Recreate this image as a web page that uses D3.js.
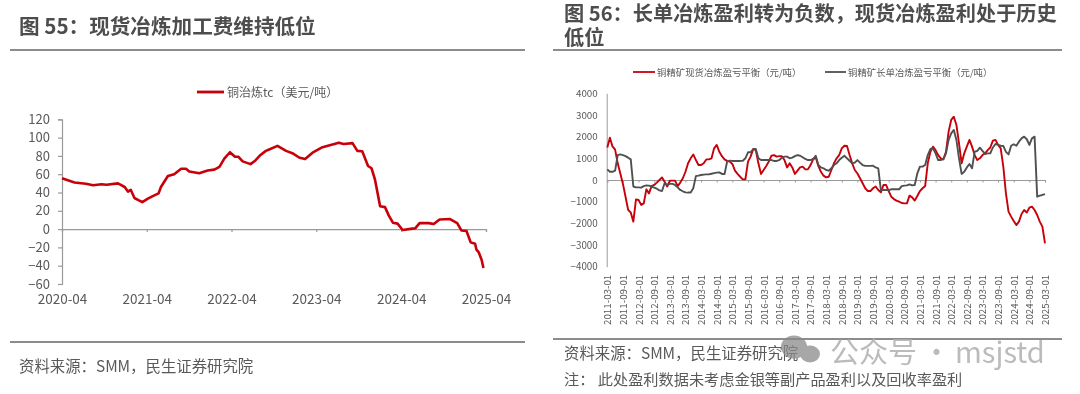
<!DOCTYPE html>
<html><head><meta charset="utf-8">
<script src="https://cdnjs.cloudflare.com/ajax/libs/d3/7.8.5/d3.min.js"></script>
<style>html,body{margin:0;padding:0;background:#fff}svg{display:block;filter:blur(0.4px)}text{font-family:"Noto Sans CJK SC","Open Sans",sans-serif}</style>
</head><body><svg id="c" width="1080" height="394"></svg>
<script>
const tcDates=["2020-04-01","2020-04-26","2020-05-25","2020-07-13","2020-08-13","2020-09-18","2020-10-10","2020-11-28","2020-12-27","2021-01-10","2021-01-22","2021-02-07","2021-02-22","2021-03-13","2021-04-04","2021-04-27","2021-05-22","2021-06-01","2021-07-01","2021-07-28","2021-08-27","2021-09-17","2021-10-01","2021-11-13","2021-12-19","2022-01-17","2022-02-08","2022-03-01","2022-03-25","2022-04-16","2022-05-01","2022-05-19","2022-06-22","2022-07-13","2022-08-04","2022-08-27","2022-09-10","2022-10-16","2022-11-22","2022-12-19","2023-01-19","2023-02-12","2023-03-16","2023-04-28","2023-06-10","2023-07-07","2023-07-28","2023-09-04","2023-09-25","2023-10-16","2023-11-10","2023-11-25","2023-12-10","2024-01-01","2024-01-22","2024-02-07","2024-02-25","2024-03-16","2024-04-07","2024-05-19","2024-06-01","2024-06-19","2024-07-28","2024-08-19","2024-09-13","2024-10-28","2024-11-28","2024-12-16","2025-01-07","2025-01-25","2025-02-13","2025-02-19","2025-03-01","2025-03-13","2025-03-21"];
const tcValues=[55.5,53.5,51,49.5,48,49,48.5,50,46,41,43,34,32,29.5,33,36,39,46,58,60,66,66,63,61,64,65,68,77,84,79,79,74,71,75,81,85.5,87,91,85.5,83,78,76.5,83.5,89.5,92.5,94.5,93,94,85.5,85,69,66.5,54,25,24,15,7,6,-1,0.5,1,6.5,6.5,5.5,10.5,11,6.5,-1.5,-2,-14.5,-16,-22.5,-25.5,-33.5,-42.5];
const tcTicks=["2020-04","2021-04","2022-04","2023-04","2024-04","2025-04"];
const tcYTicks=[120,100,80,60,40,20,0,-20,-40,-60];

const spotValues=[1500,1950,1550,1400,770,300,-180,-770,-1380,-1500,-1920,-900,-920,-1150,-1080,-430,-620,-280,-230,-120,0,120,-80,-300,-30,-30,-30,-280,-120,80,380,770,1000,1180,920,690,690,770,950,950,1000,1460,1620,1300,1100,950,880,850,740,430,280,150,30,30,850,1080,1420,1380,770,280,460,650,850,1120,1150,1080,1100,1100,920,580,770,580,280,430,580,615,490,490,690,950,1050,650,380,200,120,150,460,770,1000,1150,1460,1580,1570,1150,770,460,300,80,-150,-380,-510,-510,-380,-300,-460,-570,-230,-230,-510,-770,-880,-950,-1000,-1060,-1080,-1080,-720,-800,-950,-740,-510,-380,-280,770,1300,1540,1380,1150,1000,950,1300,2230,2770,2920,2540,1690,770,1230,1540,1850,1540,1150,920,1000,1150,1230,1380,1500,1815,1850,1620,1460,615,-615,-1460,-1690,-1890,-2080,-1920,-1570,-1385,-1500,-1280,-1230,-1385,-1615,-1920,-2150,-2920];
const longValues=[490,380,380,430,1150,1180,1150,1100,1030,950,-300,-340,-340,-350,-280,-250,-260,-300,-350,-400,-480,-510,-150,-230,-180,-180,-230,-340,-460,-520,-570,-580,-580,-380,180,200,230,250,260,260,290,320,340,350,280,280,850,890,880,880,880,880,890,1000,1280,1280,1430,1430,1000,920,920,920,920,920,880,880,920,1030,1080,1080,1000,1030,1100,1150,1120,1050,970,920,920,970,1120,690,580,540,460,430,540,690,770,920,1030,1120,1000,890,770,800,920,800,690,650,650,650,660,580,540,-460,-460,-460,-460,-430,-430,-430,-430,-280,-260,-250,-200,-250,-230,310,615,615,690,1150,1430,1460,1230,920,920,970,1230,1850,2150,2310,1850,1000,280,380,580,740,540,1310,1340,1490,1340,1200,1230,1230,1500,1660,1620,1580,1570,1300,1180,1580,1650,1580,1770,1920,2000,1880,1620,1920,2000,-770,-720,-690,-650];
const profitYTicks=[4000,3000,2000,1000,0,-1000,-2000,-3000,-4000];

const titleLeft="图 55：现货冶炼加工费维持低位";
const titleRight=["图 56：长单冶炼盈利转为负数，现货冶炼盈利处于历史","低位"];
const legendLeft="铜治炼tc（美元/吨）";
const legendSpot="铜精矿现货冶炼盈亏平衡（元/吨）";
const legendLong="铜精矿长单冶炼盈亏平衡（元/吨）";
const sourceLeft="资料来源：SMM，民生证券研究院";
const sourceRight="资料来源：SMM，民生证券研究院";
const noteRight="注：  此处盈利数据未考虑金银等副产品盈利以及回收率盈利";
const wmParts=["公众号","·","msjstd"];

const RED="#c8000a",GREY="#505050",TXT="#595959",AX="#9a9a9a";
const svg=d3.select("#c");
const fmtM=d3.timeFormat("%Y-%m"),pM=d3.timeParse("%Y-%m"),pD=d3.timeParse("%Y-%m-%d");

function text(x,y,s,size,fill,opts={}){return svg.append("text").attr("x",x).attr("y",y).attr("font-size",size).attr("fill",fill).attr("font-weight",opts.weight||400).attr("text-anchor",opts.anchor||"start").text(s);}
function rule(x1,x2,y,w,c){svg.append("line").attr("x1",x1).attr("x2",x2).attr("y1",y).attr("y2",y).attr("stroke",c||"#666").attr("stroke-width",w||1.5);}

// headers and rules
text(19,34,titleLeft,20.6,"#4d4d4d",{weight:700});
rule(10,525,50,1.6);
text(564,21,titleRight[0],20.2,"#4d4d4d",{weight:700});
text(564,45,titleRight[1],20.2,"#4d4d4d",{weight:700});
rule(553,1062,50,1.6);
rule(10,525,342,1.6);
rule(553,1062,339,1.6);
text(19,372,sourceLeft,15.4,TXT);
text(564,359,sourceRight,15.4,TXT);
text(564,385,noteRight,15.2,TXT);

// left chart
const lx=d3.scaleTime().domain([pM("2020-04"),pM("2025-04")]).range([62,486]);
const ly=d3.scaleLinear().domain([-60,120]).range([284,119.3]);
const gl=svg.append("g");
const yAxL=gl.append("g").attr("transform","translate(62,0)").call(d3.axisLeft(ly).tickValues(tcYTicks).tickSize(4).tickPadding(8));
const xAxL=gl.append("g").attr("transform",`translate(0,${ly(0)})`).call(d3.axisBottom(lx).tickValues(tcTicks.map(pM)).tickSize(3).tickFormat(""));
const xLabL=gl.append("g").attr("transform",`translate(0,${ly(-60)})`).call(d3.axisBottom(lx).tickValues(tcTicks.map(pM)).tickSize(0).tickPadding(10).tickFormat(fmtM));
xLabL.select(".domain").remove();
[yAxL,xAxL].forEach(a=>{a.selectAll("path,line").attr("stroke",AX).attr("stroke-width",1.2);});
yAxL.selectAll("text").attr("font-size",13);
xLabL.selectAll("text").attr("font-size",13.5);
[yAxL,xLabL].forEach(a=>a.selectAll("text").attr("fill",TXT).attr("font-family","'Open Sans',sans-serif"));
gl.append("path").attr("fill","none").attr("stroke",RED).attr("stroke-width",2.6).attr("stroke-linejoin","round")
  .attr("d",d3.line().x((d,i)=>lx(pD(tcDates[i]))).y(d=>ly(d))(tcValues));
const lineLeg=(x1,x2,y,c,w)=>svg.append("line").attr("x1",x1).attr("x2",x2).attr("y1",y).attr("y2",y).attr("stroke",c).attr("stroke-width",w);
lineLeg(197,224,92,RED,2.8);
text(227,97,legendLeft,12,TXT);

// right chart
const months=d3.timeMonth.range(pM("2011-03"),d3.timeMonth.offset(pM("2025-03"),1)).map(d=>d3.timeFormat("%Y-%m-01")(d));
const rx=d3.scalePoint().domain(months).range([607.3,1045]);
const ry=d3.scaleLinear().domain([-4000,4000]).range([266.7,93.3]);
const rTicks=months.filter((m,i)=>i%6===0);
const gr=svg.append("g");
const yAxR=gr.append("g").attr("transform","translate(606.7,0)").call(d3.axisLeft(ry).tickValues(profitYTicks).tickSize(0).tickPadding(9).tickFormat(d3.format("d")));
const xAxR=gr.append("g").attr("transform",`translate(0,${ry(0)})`).call(d3.axisBottom(rx).tickValues(rTicks).tickSize(2.5).tickFormat(""));
const xLabR=gr.append("g").attr("transform",`translate(0,${ry(-4000)})`).call(d3.axisBottom(rx).tickValues(rTicks).tickSize(0).tickPadding(0));
xLabR.select(".domain").remove();
xLabR.selectAll("text").attr("transform","rotate(-90)").attr("text-anchor","end").attr("x",-8).attr("y",0).attr("dx",0).attr("dy","0.35em").attr("font-size",9.8);
[yAxR,xAxR].forEach(a=>{a.selectAll("path,line").attr("stroke",AX).attr("stroke-width",1);});
yAxR.selectAll("text").attr("font-size",9.8);
[yAxR,xLabR].forEach(a=>a.selectAll("text").attr("fill",TXT).attr("font-family","'Open Sans',sans-serif"));
const lineR=d3.line().x((d,i)=>rx(months[i])).y(d=>ry(d));
gr.append("path").attr("fill","none").attr("stroke",RED).attr("stroke-width",1.9).attr("stroke-linejoin","round").attr("d",lineR(spotValues));
gr.append("path").attr("fill","none").attr("stroke",GREY).attr("stroke-width",1.9).attr("stroke-linejoin","round").attr("d",lineR(longValues));
lineLeg(633,655,72,RED,1.8);
text(657,76,legendSpot,9.4,TXT);
lineLeg(825,846,72,GREY,1.8);
text(848,76,legendLong,9.4,TXT);

// watermark
const wm=svg.append("g").attr("fill","#8a8a8a").attr("opacity",0.75);
wm.append("ellipse").attr("cx",794).attr("cy",347).attr("rx",13).attr("ry",11.5);
wm.append("ellipse").attr("cx",810).attr("cy",354).attr("rx",10).attr("ry",8.5);
const wmt=svg.append("text").attr("y",363).attr("font-size",29).attr("fill","#b0b0b0").attr("opacity",.85);
wmt.selectAll("tspan").data(wmParts).join("tspan").attr("x",(d,i)=>[830,922,955][i]).text(d=>d);
</script></body></html>
